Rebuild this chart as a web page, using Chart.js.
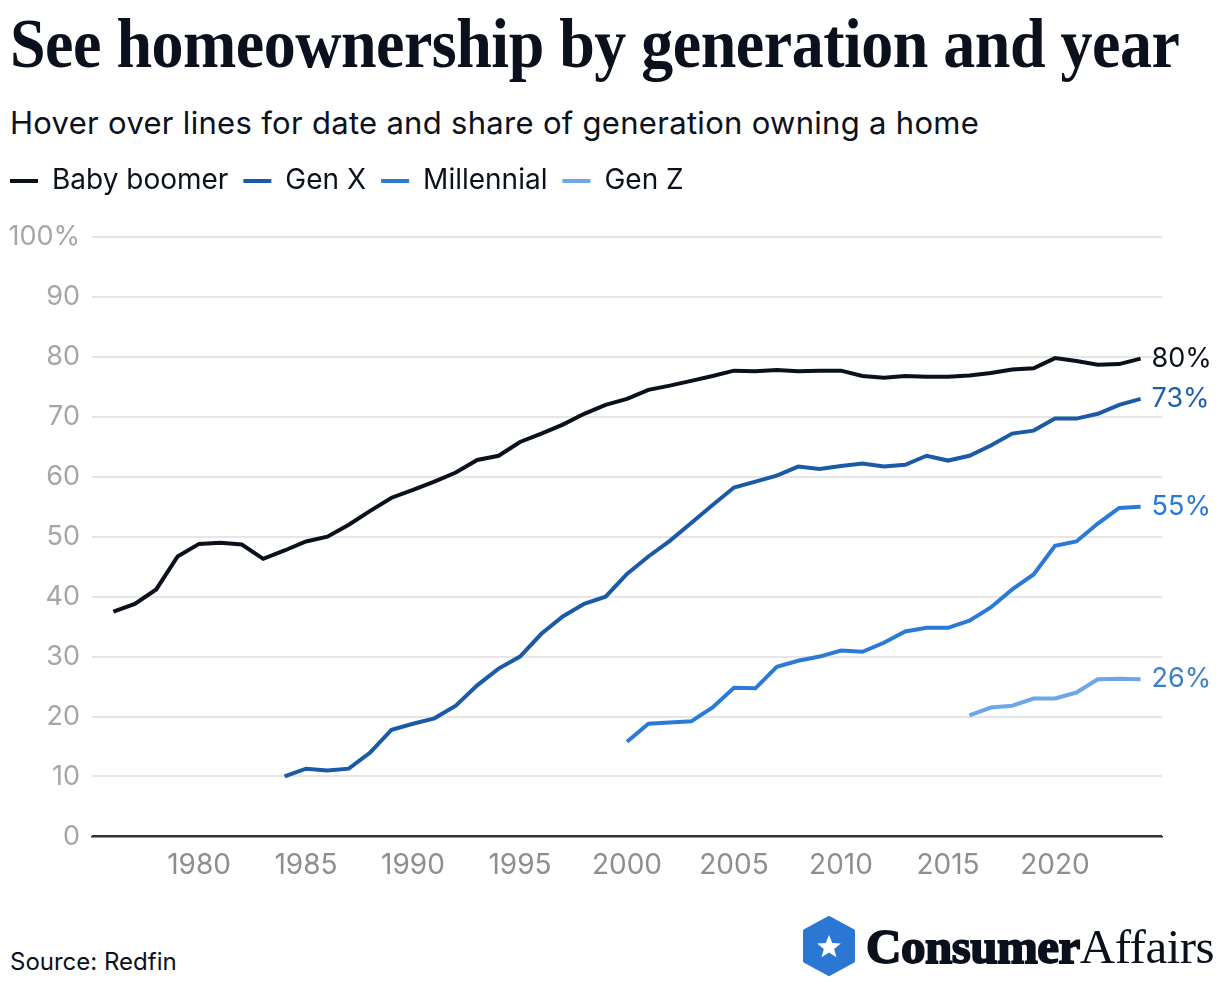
<!DOCTYPE html>
<html>
<head>
<meta charset="utf-8">
<script src="https://cdn.jsdelivr.net/npm/chart.js@4"></script>
<style>
  body { margin: 0; background: #fff; width: 1220px; height: 988px; position: relative; overflow: hidden; font-family: Inter, "Noto Sans", sans-serif; color: #0b111c; }
  h1 { position: absolute; left: 10px; top: 3px; margin: 0; font: bold 64px "Liberation Serif", serif; letter-spacing: -0.5px; white-space: nowrap; transform: scaleY(1.1); transform-origin: 0 0; }
  .sub { position: absolute; left: 10px; top: 104px; font-size: 31px; letter-spacing: 0.3px; white-space: nowrap; }
  #wrap { position: absolute; left: 0; top: 152px; width: 1220px; height: 742px; }
  .source { position: absolute; left: 10px; top: 947px; font-size: 24px; }
  .logo { position: absolute; left: 802px; top: 916px; display: flex; align-items: center; }
  .brand { margin-left: 10px; font: 49px "Liberation Serif", serif; letter-spacing: -0.5px; }
  .brand b { font-weight: 900; -webkit-text-stroke: 1.8px #0b111c; }
</style>
</head>
<body>
<h1>See homeownership by generation and year</h1>
<div class="sub">Hover over lines for date and share of generation owning a home</div>
<div id="wrap"><canvas id="chart"></canvas></div>
<div class="source">Source: Redfin</div>
<div class="logo">
  <svg width="54" height="60" viewBox="0 0 54 60">
    <path d="M27 2 L51 15 L51 45 L27 58 L3 45 L3 15 Z" fill="#2a78d4" stroke="#2a78d4" stroke-width="4" stroke-linejoin="round"/>
    <path d="M27 19 L30.3 27 L38.8 27.5 L32.2 33 L34.4 41.3 L27 36.6 L19.6 41.3 L21.8 33 L15.2 27.5 L23.7 27 Z" fill="#fff"/>
  </svg>
  <div class="brand"><b>Consumer</b>Affairs</div>
</div>
<script>
const years = [1976, 1977, 1978, 1979, 1980, 1981, 1982, 1983, 1984, 1985,
  1986, 1987, 1988, 1989, 1990, 1991, 1992, 1993, 1994, 1995,
  1996, 1997, 1998, 1999, 2000, 2001, 2002, 2003, 2004, 2005,
  2006, 2007, 2008, 2009, 2010, 2011, 2012, 2013, 2014, 2015,
  2016, 2017, 2018, 2019, 2020, 2021, 2022, 2023, 2024];

const babyBoomer = [37.5, 38.8, 41.2, 46.7, 48.8, 49.0, 48.7, 46.3, 47.7, 49.2,
  50.0, 52.0, 54.3, 56.5, 57.8, 59.2, 60.7, 62.8, 63.5, 65.8,
  67.2, 68.7, 70.5, 72.0, 73.0, 74.5, 75.2, 76.0, 76.8, 77.7,
  77.6, 77.8, 77.6, 77.7, 77.7, 76.8, 76.5, 76.8, 76.7, 76.7,
  76.9, 77.3, 77.9, 78.1, 79.8, 79.3, 78.7, 78.8, 79.7];

const genX = [null, null, null, null, null, null, null, null, 10.0, 11.3,
  11.0, 11.3, 14.0, 17.8, 18.8, 19.7, 21.8, 25.2, 28.0, 30.0,
  33.8, 36.7, 38.8, 40.0, 43.8, 46.7, 49.3, 52.3, 55.3, 58.2,
  59.2, 60.2, 61.7, 61.3, 61.8, 62.2, 61.7, 62.0, 63.5, 62.7,
  63.5, 65.2, 67.2, 67.7, 69.7, 69.7, 70.5, 72.0, 73.0];

const millennial = [null, null, null, null, null, null, null, null, null, null,
  null, null, null, null, null, null, null, null, null, null,
  null, null, null, null, 15.8, 18.8, 19.0, 19.2, 21.5, 24.8,
  24.7, 28.3, 29.3, 30.0, 31.0, 30.8, 32.3, 34.2, 34.8, 34.8,
  36.0, 38.2, 41.2, 43.7, 48.5, 49.2, 52.2, 54.8, 55.0];

const genZ = [null, null, null, null, null, null, null, null, null, null,
  null, null, null, null, null, null, null, null, null, null,
  null, null, null, null, null, null, null, null, null, null,
  null, null, null, null, null, null, null, null, null, null,
  20.2, 21.5, 21.8, 23.0, 23.0, 24.0, 26.2, 26.3, 26.2];

const seriesNames = ['Baby boomer', 'Gen X', 'Millennial', 'Gen Z'];
const lineColors = ['#0b111c', '#1a5aa6', '#2a7ad6', '#6fa6e8'];
const labelColors = ['#0b111c', '#1f5fae', '#2a78d4', '#3f7fc5'];

const toPoints = vals => years.map((yr, i) => ({ x: yr, y: vals[i] }));

// Draws the "80%" style labels at the end of each line
const endLabels = {
  id: 'endLabels',
  afterDatasetsDraw(chart) {
    const ctx = chart.ctx;
    ctx.save();
    ctx.font = '27px Inter';
    ctx.textAlign = 'left';
    ctx.textBaseline = 'middle';
    chart.data.datasets.forEach((ds, i) => {
      const meta = chart.getDatasetMeta(i);
      const last = meta.data[meta.data.length - 1];
      const val = ds.data[ds.data.length - 1].y;
      ctx.fillStyle = labelColors[i];
      ctx.fillText(Math.round(val) + '%', last.x + 11, last.y);
    });
    ctx.restore();
  }
};

// Extra room under the legend and pull it flush with the left margin
const legendSpacing = {
  id: 'legendSpacing',
  beforeInit(chart) {
    const fit = chart.legend.fit;
    chart.legend.fit = function () {
      fit.call(this);
      this.height += 32;
    };
  },
  afterLayout(chart) {
    chart.legend.left -= 5;
  }
};

const datasets = [babyBoomer, genX, millennial, genZ].map((vals, i) => ({
  label: seriesNames[i],
  data: toPoints(vals),
  borderColor: lineColors[i],
  backgroundColor: lineColors[i],
  borderWidth: 4,
  pointRadius: 0,
  tension: 0,
  spanGaps: false
}));

new Chart(document.getElementById('chart'), {
  type: 'line',
  data: { datasets: datasets },
  plugins: [endLabels, legendSpacing],
  options: {
    responsive: true,
    maintainAspectRatio: false,
    animation: false,
    layout: { padding: { left: 0, right: 58, top: 0, bottom: 0 } },
    plugins: {
      legend: {
        align: 'start',
        labels: {
          font: { family: 'Inter', size: 28 },
          color: '#0b111c',
          boxWidth: 28,
          boxHeight: 4,
          padding: 15,
          generateLabels: chart => chart.data.datasets.map((ds, i) => ({
            text: ds.label,
            fillStyle: lineColors[i],
            strokeStyle: lineColors[i],
            lineWidth: 0,
            fontColor: '#0b111c',
            datasetIndex: i
          }))
        }
      },
      tooltip: { enabled: false }
    },
    scales: {
      x: {
        type: 'linear',
        min: 1975,
        max: 2025,
        ticks: {
          stepSize: 5,
          font: { family: 'Inter', size: 28 },
          color: '#8e8e8e',
          padding: 12,
          callback: v => (v >= 1980 && v <= 2020 ? String(v) : '')
        },
        grid: { display: false, drawTicks: false },
        border: { display: true, color: '#333', width: 1.5 }
      },
      y: {
        min: 0,
        max: 100,
        afterFit: s => { s.width = 92; },
        ticks: {
          stepSize: 10,
          padding: 12,
          font: { family: 'Inter', size: 27 },
          color: '#a6a6a6',
          callback: v => (v === 100 ? '100%' : String(v))
        },
        grid: {
          drawTicks: false,
          lineWidth: 2,
          color: c => (c.tick.value === 0 ? '#333' : '#e6e6e6')
        },
        border: { display: false }
      }
    }
  }
});
</script>
</body>
</html>
